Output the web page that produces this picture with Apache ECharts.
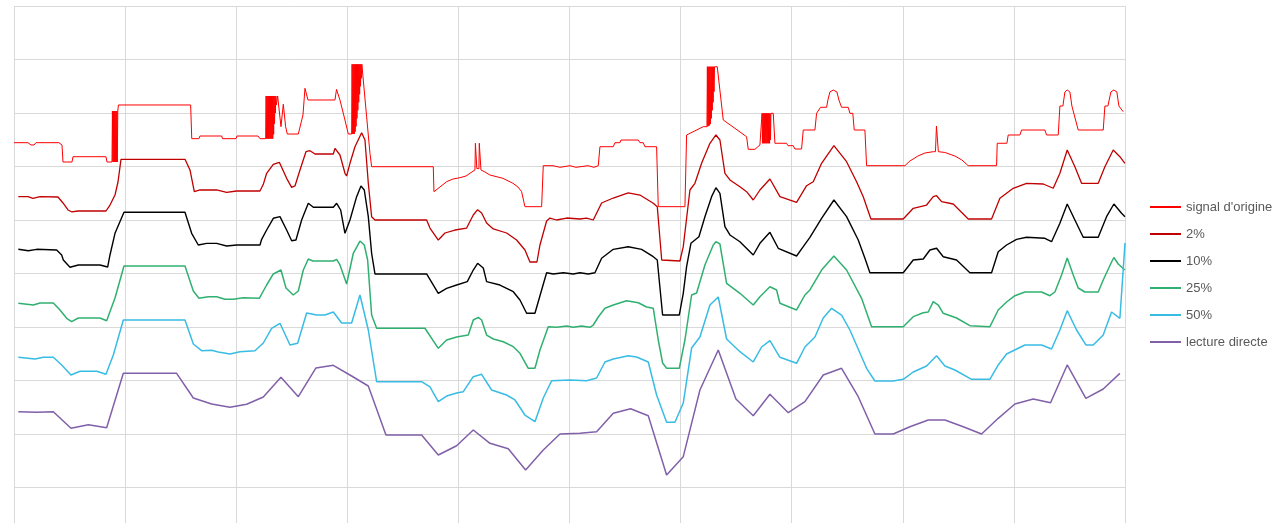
<!DOCTYPE html>
<html>
<head>
<meta charset="utf-8">
<script src="https://cdn.jsdelivr.net/npm/echarts@6/dist/echarts.min.js"></script>
<style>
html,body{margin:0;padding:0;background:#fff;}
#chart{width:1280px;height:523px;}
</style>
</head>
<body>
<div id="chart"></div>
<script>
const seriesNames = ["signal d'origine", "2%", "10%", "25%", "50%", "lecture directe"];
const seriesColors = ['#FF0000', '#C00000', '#000000', '#30B070', '#38BCE4', '#8060A8'];

const signalOrigine = [
[0,7.445],[12.6,7.445],[15.3,7.402],[18,7.402],[19.8,7.445],[40.5,7.445],[43.2,7.402],[44.1,7.084],[52.2,7.084],[53.1,7.183],[82.8,7.183],[83.7,7.084],[88.2,7.084],
[88.6,8.037],[89.0,7.084],[89.4,8.037],[89.8,7.084],[90.2,8.037],[90.6,7.084],[91.0,8.037],[91.4,7.084],[91.8,8.037],[92.2,7.084],[92.6,8.037],[93.0,7.084],[93.4,8.037],
[94,8.150],[159,8.150],[160,7.520],[166.5,7.520],[167.4,7.570],[187,7.570],[187.6,7.520],[199.8,7.520],[200.7,7.570],[219.6,7.570],[221.4,7.520],[226.5,7.520],
[226.9,8.318],[227.3,7.52],[227.7,8.318],[228.1,7.52],[228.5,8.318],[228.9,7.52],[229.3,8.318],[229.7,7.52],[230.1,8.318],[230.5,7.52],[230.9,8.318],[231.3,7.52],[231.7,8.318],[232.1,7.52],[232.5,8.318],[232.9,7.52],[233.3,8.318],[233.7,7.6],[234.1,8.318],[234.5,7.8],[234.9,8.318],[235.3,8.0],[235.7,8.318],[236.1,8.15],[237.3,8.318],
[240.3,7.744],[242.4,8.163],[244.5,7.744],[246,7.607],[255.9,7.607],[260.1,7.963],[261.9,8.462],[263.7,8.462],[264.6,8.243],[288.9,8.243],[290.3,8.441],[292,8.441],[293.4,8.243],[297.9,7.869],[300.9,7.607],[303.9,7.607],
[304.3,8.910],[304.7,7.607],[305.1,8.910],[305.5,7.607],[305.9,8.910],[306.3,7.607],[306.7,8.910],[307.1,7.65],[307.5,8.910],[307.9,7.75],[308.3,8.910],[308.7,7.9],[309.1,8.910],[309.5,8.05],[309.9,8.910],[310.3,8.2],[310.7,8.910],[311.1,8.35],[311.5,8.910],[311.9,8.5],[312.3,8.910],[312.7,8.65],[313.1,8.910],[313.8,8.910],
[317.4,7.931],[320.4,7.247],[321.9,6.996],[377.4,6.996],[378,6.529],[383.4,6.617],[389.4,6.716],[395.1,6.766],[401.4,6.791],[406.8,6.822],[410.4,6.873],[414.9,6.935],
[415.3,7.434],[416.3,7.434],[416.6,6.96],[418.5,6.96],[418.8,7.434],[419.8,7.434],[420.3,6.935],
[423.9,6.897],[428.4,6.841],[440.1,6.779],[449.1,6.686],[453.6,6.617],[456.9,6.529],[459.9,6.249],[474.9,6.249],[476.4,7.015],[485.1,7.015],[486.9,6.985],[491.4,6.985],[493.2,7.015],[500.4,7.015],[502.2,6.985],[505.8,6.985],[507.6,7.015],[516.6,7.015],[518.4,6.985],[522,6.985],[523.8,7.015],[525.9,7.015],[527.4,7.370],[539.4,7.370],[540.9,7.445],[545.4,7.445],[546.3,7.495],[561.9,7.495],[563.4,7.445],[566.4,7.445],[567.9,7.370],[578.4,7.370],[579.9,6.249],[603.9,6.249],[605.4,7.589],[620.4,7.744],[623.7,7.744],
[624.1,8.865],[624.5,7.75],[624.9,8.865],[625.3,7.76],[625.7,8.865],[626.1,7.77],[626.5,8.865],[626.9,7.8],[627.3,8.865],[627.7,7.9],[628.1,8.865],[628.5,8.05],[628.9,8.865],[629.3,8.2],[629.7,8.865],[630.1,8.4],[630.5,8.865],[633,8.865],
[638.4,7.869],[659.4,7.557],[660.9,7.321],[666.9,7.321],[671.4,7.402],[672.9,7.434],
[673.3,7.994],[673.7,7.434],[674.1,7.994],[674.5,7.434],[674.9,7.994],[675.3,7.434],[675.7,7.994],[676.1,7.434],[676.5,7.994],[676.9,7.434],[677.3,7.994],[677.7,7.434],[678.1,7.994],[678.5,7.434],[678.9,7.994],[679.3,7.434],[679.7,7.994],[680.1,7.434],[680.5,7.994],[680.9,7.5],[681.3,7.994],[683.4,7.994],
[684.9,7.434],[695.4,7.434],[696.6,7.389],[701.4,7.389],[702.9,7.327],[708.9,7.327],[710.4,7.682],[720.9,7.682],[722.4,7.994],[726,8.107],[731.4,8.107],[732.6,8.243],[734.4,8.393],[737.4,8.430],[740.7,8.393],[742.5,8.243],[744.9,8.107],[750.9,8.107],[752.4,7.994],[755,7.994],[756.3,7.682],[765.9,7.682],[767.4,7.015],[801.9,7.015],[806.4,7.103],[813.6,7.196],[819.9,7.252],[827.4,7.277],[829.4,7.277],[830.3,7.757],[831.2,7.757],[832,7.277],[837.9,7.262],[846.9,7.196],[853.2,7.121],[858.9,7.015],[884.4,7.015],[885,7.434],[893.7,7.434],[894.9,7.589],[905.4,7.589],[906.9,7.682],[927.9,7.682],[929.4,7.589],[939.9,7.589],[941.4,8.131],[944.1,8.131],[945.9,8.393],[948,8.430],[950.4,8.393],[952.2,8.131],[953.4,8.131],[957.9,7.682],[980.4,7.682],[981.9,8.131],[984.6,8.131],[987.3,8.393],[990,8.430],[992.7,8.393],[994.5,8.131],[995.4,8.131],[998.4,8.024]
];

const lissage2 = [
[3.9,6.436],[12.6,6.436],[17.1,6.406],[23.4,6.436],[39.6,6.430],[44.1,6.318],[48.6,6.187],[52.2,6.150],[57.6,6.168],[82.8,6.168],[83.7,6.131],[86.4,6.280],[90.9,6.467],[93.6,6.710],[96.3,7.134],[153.9,7.134],[158.4,6.935],[162.3,6.529],[167.4,6.561],[182.4,6.561],[191.4,6.518],[200.4,6.542],[221.4,6.542],[224.4,6.667],[227.4,6.873],[233.4,7.041],[238.8,7.079],[245.4,6.779],[249.9,6.611],[252.9,6.636],[257.4,6.935],[262.8,7.277],[266.4,7.295],[270.9,7.234],[287.4,7.234],[288.9,7.340],[293.4,7.215],[297.9,6.873],[299.4,6.822],[302.4,7.060],[306.9,7.370],[312.9,7.632],[315.9,7.495],[318.9,6.686],[321.9,6.062],[324.9,6.0],[371.4,6.0],[374.4,5.850],[381.9,5.626],[387.9,5.757],[396.9,5.813],[407.4,5.850],[413.4,6.093],[417.3,6.193],[420.9,6.131],[425.4,5.944],[431.4,5.832],[443.4,5.757],[452.4,5.626],[459.9,5.439],[464.4,5.215],[470.7,5.215],[473.4,5.533],[479.4,5.981],[482.4,6.037],[488.4,6.0],[497.4,6.037],[509.4,6.019],[515.4,6.037],[521.4,6.0],[528.9,6.318],[539.4,6.411],[552.9,6.505],[563.4,6.467],[575.4,6.312],[579,6.249],[583,5.252],[599.4,5.234],[602.4,5.501],[608.4,6.561],[612.9,6.686],[618.9,7.060],[626.4,7.434],[631.8,7.589],[635.4,7.495],[639.9,6.873],[644.4,6.748],[653.4,6.622],[659.4,6.529],[665.4,6.374],[671.4,6.561],[680.4,6.766],[689.4,6.436],[704.4,6.331],[713.4,6.641],[719.4,6.716],[726.9,7.060],[738,7.389],[749.4,7.090],[758.4,6.716],[764.4,6.436],[771.3,6.019],[800.4,6.019],[809.4,6.219],[821.4,6.280],[827.4,6.436],[830.4,6.454],[834.9,6.342],[845.4,6.299],[858.9,6.019],[879.9,6.019],[887.4,6.406],[899.4,6.593],[911.4,6.686],[926.4,6.673],[935.4,6.593],[941.4,6.873],[948,7.308],[954.9,6.996],[960.9,6.686],[975.9,6.686],[981.9,6.996],[989.4,7.308],[995.4,7.183],[999.9,7.060]
];

const lissage10 = [
[3.9,5.452],[12.9,5.426],[20.4,5.452],[38.4,5.439],[42.9,5.346],[44.4,5.252],[50.4,5.116],[57.9,5.159],[77.4,5.159],[84.3,5.121],[86.4,5.346],[90.9,5.751],[99,6.144],[153.9,6.144],[159.9,5.751],[165.9,5.533],[173.4,5.564],[182.4,5.564],[191.4,5.514],[200.4,5.533],[221.4,5.533],[222.9,5.639],[227.4,5.813],[233.4,6.032],[239.4,6.062],[245.4,5.813],[249.9,5.613],[253.8,5.626],[258.9,6.0],[264.9,6.312],[269.4,6.237],[287.4,6.237],[290.4,6.312],[294,6.187],[297.9,5.751],[302.4,6.0],[308.4,6.436],[312.3,6.636],[315.3,6.561],[318.9,6.062],[321.9,5.378],[324.9,4.991],[371.4,4.991],[381.9,4.630],[389.4,4.723],[398.4,4.785],[408,4.847],[413.4,5.065],[417.3,5.191],[422.4,5.103],[425.4,4.847],[437.4,4.785],[449.4,4.660],[455.4,4.505],[461.4,4.256],[468.9,4.256],[474.9,4.692],[479.4,5.015],[485.4,4.991],[494.4,5.015],[503.4,4.991],[509.4,5.015],[516.9,4.991],[522.9,5.015],[528.9,5.284],[539.4,5.452],[552.9,5.501],[564.9,5.452],[575.4,5.314],[579,5.252],[583.8,4.224],[598.8,4.224],[602.4,4.630],[605.4,5.127],[609.3,5.564],[616.5,5.688],[621.9,6.062],[627.9,6.436],[631.8,6.604],[635.4,6.499],[639.9,5.875],[644.4,5.720],[653.4,5.594],[665.4,5.346],[671.4,5.564],[680.4,5.770],[687.9,5.471],[704.4,5.327],[710.4,5.501],[716.4,5.677],[726.9,6.032],[738,6.374],[749.4,6.062],[759.9,5.626],[765.9,5.284],[770.4,5.015],[800.4,5.015],[809.4,5.252],[818.4,5.271],[824.4,5.439],[830.4,5.471],[836.4,5.314],[848.4,5.252],[860.4,5.015],[879.9,5.015],[885.9,5.407],[893.4,5.533],[902.4,5.639],[911.4,5.677],[927.9,5.658],[933.9,5.594],[941.4,5.938],[948,6.299],[954.9,6.0],[962.4,5.677],[975.9,5.677],[983.4,6.062],[990,6.299],[996.9,6.125],[1000,6.062]
];

const lissage25 = [
[3.9,4.443],[17.4,4.411],[23.4,4.449],[35.4,4.449],[41.4,4.318],[47.4,4.163],[51.9,4.099],[57.9,4.168],[77.4,4.168],[83.4,4.118],[90.9,4.542],[99,5.140],[153.9,5.140],[161.4,4.673],[166.5,4.536],[174.9,4.566],[182.4,4.566],[189.9,4.518],[197.4,4.518],[206.4,4.548],[220.8,4.536],[227.4,4.785],[233.4,4.991],[240.3,5.065],[244.8,4.729],[251.4,4.598],[255.9,4.673],[260.4,5.065],[264.9,5.271],[269.1,5.234],[287.4,5.234],[290.4,5.265],[293.4,5.159],[299.4,4.804],[305.4,5.378],[311.4,5.607],[315.3,5.533],[318.3,5.252],[321.9,4.224],[326.4,3.976],[369.9,3.976],[381.9,3.602],[389.4,3.757],[398.4,3.813],[408.9,3.850],[413.4,4.131],[417.9,4.181],[420.9,4.131],[425.4,3.850],[431.4,3.776],[440.4,3.725],[449.4,3.632],[455.4,3.508],[462.9,3.228],[468.9,3.228],[473.4,3.570],[480.9,4.006],[488.4,3.994],[497.4,4.019],[503.4,3.994],[510.9,4.019],[518.4,3.994],[521.4,4.037],[525.9,4.187],[531.9,4.350],[539.4,4.411],[551.4,4.492],[561.9,4.454],[569.4,4.374],[575.4,4.350],[579.9,3.757],[583.8,3.327],[587.4,3.228],[598.8,3.228],[603.9,3.757],[609.9,4.598],[614.4,4.636],[621.9,5.159],[629.4,5.533],[631.8,5.594],[635.4,5.551],[641.4,4.817],[653.4,4.630],[665.4,4.411],[671.4,4.566],[680.4,4.753],[686.4,4.692],[689.4,4.443],[704.4,4.318],[711.9,4.598],[716.4,4.692],[726.9,5.065],[738,5.327],[749.4,5.065],[762.9,4.536],[771.9,4.006],[800.4,4.006],[809.4,4.193],[818.4,4.267],[822.9,4.280],[827.4,4.473],[831.9,4.411],[836.4,4.256],[848.4,4.168],[860.4,4.024],[878.4,4.006],[885.9,4.318],[893.4,4.467],[900.9,4.585],[909.9,4.654],[924.9,4.654],[932.4,4.585],[936.9,4.654],[942.9,4.972],[948,5.290],[953.4,4.972],[957.9,4.729],[963.9,4.654],[975.9,4.654],[980.4,4.879],[987.9,5.215],[990,5.299],[993.9,5.178],[999.9,5.065]
];

const lissage50 = [
[3.9,3.434],[18.9,3.402],[26.4,3.434],[35.4,3.434],[42.9,3.290],[51.3,3.103],[59.4,3.172],[74.4,3.172],[82.8,3.116],[89.4,3.477],[98.4,4.131],[153.9,4.131],[161.4,3.682],[168.9,3.557],[177.9,3.564],[183.9,3.533],[194.4,3.495],[203.4,3.538],[216.9,3.557],[224.4,3.701],[231.9,3.976],[239.4,4.069],[248.4,3.664],[255.3,3.695],[263.4,4.262],[272.4,4.224],[279.9,4.224],[287.4,4.280],[294.9,4.075],[303.9,4.075],[311.4,4.598],[318.9,3.944],[326.4,2.978],[366.9,2.978],[374.4,2.879],[381.9,2.604],[389.4,2.710],[398.4,2.766],[404.4,2.791],[413.4,3.071],[420.9,3.116],[429.9,2.822],[443.4,2.729],[450.9,2.636],[459.9,2.355],[468.9,2.230],[476.4,2.673],[483.9,2.996],[500.4,3.009],[515.4,2.996],[524.4,3.047],[531.9,3.346],[539.4,3.402],[552.9,3.464],[560.4,3.439],[570.9,3.346],[578.4,2.729],[587.4,2.219],[594.9,2.219],[602.4,2.579],[609.9,3.607],[617.4,3.813],[626.4,4.411],[633.9,4.561],[641.4,3.776],[653.4,3.538],[665.4,3.346],[672.9,3.626],[680.4,3.744],[689.4,3.434],[704.4,3.321],[711.9,3.626],[720.9,3.813],[728.4,4.168],[735.9,4.350],[744.9,4.224],[752.4,3.944],[767.4,3.228],[774.9,2.991],[791.4,2.991],[800.4,3.022],[809.4,3.159],[821.4,3.271],[830.4,3.464],[837.9,3.271],[846.9,3.196],[861.9,3.022],[878.4,3.022],[885.9,3.290],[893.4,3.495],[909.9,3.664],[924.9,3.664],[933.9,3.589],[941.4,3.944],[948,4.305],[956.4,3.944],[964.8,3.664],[971.4,3.664],[980.4,3.850],[987.9,4.280],[995.4,4.163],[1000,5.570]
];

const lectureDirecte = [
[3.9,2.417],[20.4,2.406],[35.4,2.417],[51.3,2.107],[66.9,2.174],[83.4,2.118],[98.4,3.134],[146.4,3.134],[161.4,2.673],[177.9,2.561],[194.4,2.499],[209.4,2.555],[224.4,2.692],[240.3,3.060],[255.9,2.697],[271.8,3.234],[287.4,3.284],[303.9,3.084],[318.9,2.897],[334.8,1.981],[366.9,1.981],[381.9,1.607],[398.4,1.781],[413.4,2.075],[428.4,1.826],[444.9,1.725],[460.5,1.327],[476.4,1.701],[491.4,2.0],[509.4,2.013],[524.4,2.043],[539.4,2.387],[555,2.473],[570.9,2.342],[587.4,1.234],[602.4,1.576],[617.4,2.822],[633.9,3.570],[649.8,2.654],[665.4,2.342],[680.4,2.742],[696.9,2.398],[711.9,2.604],[728.4,3.103],[744.9,3.228],[759.9,2.697],[774.9,2.0],[791.4,2.0],[806.4,2.136],[822.9,2.262],[837.9,2.262],[854.4,2.136],[870.9,2.0],[885.9,2.293],[900.9,2.561],[917.4,2.654],[933,2.585],[948,3.290],[964.8,2.667],[980.4,2.841],[995.4,3.134]
];

const allData = [signalOrigine, lissage2, lissage10, lissage25, lissage50, lectureDirecte];
const lineWidths = [1, 1.3, 1.4, 1.5, 1.5, 1.5];

const chart = echarts.init(document.getElementById('chart'), null, {renderer: 'canvas'});
chart.setOption({
  animation: false,
  backgroundColor: '#ffffff',
  grid: {left: 14, top: 6, width: 1111, height: 535, containLabel: false, outerBoundsMode: 'none'},
  xAxis: {
    type: 'value', min: 0, max: 1000, interval: 100,
    axisLine: {show: false}, axisTick: {show: false}, axisLabel: {show: false},
    splitLine: {show: true, lineStyle: {color: '#D9D9D9', width: 1}}
  },
  yAxis: {
    type: 'value', min: 0, max: 10, interval: 1,
    axisLine: {show: false}, axisTick: {show: false}, axisLabel: {show: false},
    splitLine: {show: true, lineStyle: {color: '#D9D9D9', width: 1}}
  },
  legend: {
    orient: 'vertical', left: 1145, top: 195,
    itemWidth: 31, itemHeight: 2, itemGap: 13, icon: 'rect',
    textStyle: {fontFamily: 'Liberation Sans', fontSize: 13, color: '#595959', lineHeight: 14},
    data: seriesNames
  },
  series: seriesNames.map((n, i) => ({
    name: n, type: 'line', data: allData[i],
    showSymbol: false, symbol: 'none', clip: true,
    color: seriesColors[i],
    lineStyle: {color: seriesColors[i], width: lineWidths[i]},
    emphasis: {disabled: true}
  }))
});
</script>
</body>
</html>
